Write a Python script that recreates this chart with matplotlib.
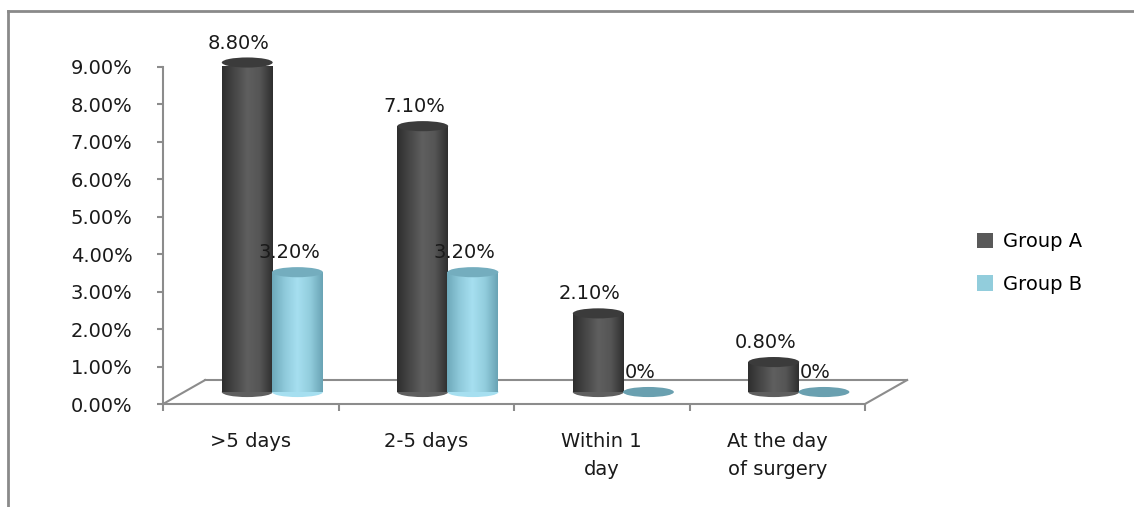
import numpy as np
import matplotlib
matplotlib.use("Agg")
import matplotlib.pyplot as plt
from matplotlib.patches import Ellipse, Patch
from matplotlib.lines import Line2D
from matplotlib.colors import LinearSegmentedColormap

categories = [">5 days", "2-5 days", "Within 1\nday", "At the day\nof surgery"]
group_a = [8.8, 7.1, 2.1, 0.8]
group_b = [3.2, 3.2, 0.0, 0.0]
labels_a = ["8.80%", "7.10%", "2.10%", "0.80%"]
labels_b = ["3.20%", "3.20%", "0%", "0%"]
yticks = [0, 1, 2, 3, 4, 5, 6, 7, 8, 9]

plt.rcParams['font.family'] = ['DejaVu Sans']
fig = plt.figure(figsize=(11.34, 5.07), dpi=100)
ax = fig.add_axes([163 / 1134, (507 - 404) / 507, 702 / 1134, 337 / 507])

gray = "#8c8c8c"
txt = "#1a1a1a"
fs = 14
# 3d look: depth offset of the floor (data units)
dx, dy = 0.24, 0.64
base = dy / 2
width = 0.29
ell_h = 0.27

x = np.arange(len(categories))
xa = x - 0.02
xb = x + 0.266

cmap_a = LinearSegmentedColormap.from_list("a", ["#2e2e2e", "#474747", "#5f5f5f", "#555555", "#2f2f2f"])
cmap_b = LinearSegmentedColormap.from_list("b", ["#6ea9ba", "#8fcadb", "#a6dff0", "#92cddd", "#6aa4b5"])
grad = np.linspace(0, 1, 100).reshape(1, -1)


def cylinders(xs, vals, cmap, top_col, bot_col):
    bars = ax.bar(xs, vals, width=width, bottom=base, color="none", zorder=3, clip_on=False)
    for bar, v in zip(bars, vals):
        x0 = bar.get_x()
        cx = x0 + width / 2
        if v > 0:
            ax.add_patch(Ellipse((cx, base), width, ell_h, facecolor=cmap(0.5), zorder=2, clip_on=False))
            im = ax.imshow(grad, cmap=cmap, aspect="auto", zorder=3,
                           extent=(x0, x0 + width, base, base + v))
            im.set_clip_path(bar)
            im.set_clip_box(None)
            ax.add_patch(Ellipse((cx, base + v), width, ell_h, facecolor=top_col, zorder=4, clip_on=False))
        else:
            ax.add_patch(Ellipse((cx, base), width, ell_h, facecolor=bot_col, zorder=4, clip_on=False))


cylinders(xa, group_a, cmap_a, "#3b3b3b", "#3b3b3b")
cylinders(xb, group_b, cmap_b, "#74adbe", "#6aa0b0")

for xs, vals, labs in [(xa, group_a, labels_a), (xb, group_b, labels_b)]:
    for xi, v, lab in zip(xs, vals, labs):
        ax.annotate(lab, (xi, base + v), xytext=(-6, 14), textcoords="offset points",
                    ha="center", va="center", fontsize=fs, color=txt, zorder=6,
                    annotation_clip=False)

# floor
kw = dict(color=gray, lw=1.5, clip_on=False, zorder=1)
ax.plot([-0.5 + dx, 3.5 + dx], [dy, dy], **kw)
ax.plot([-0.5, -0.5 + dx], [0, dy], **kw)
ax.plot([3.5, 3.5 + dx], [0, dy], **kw)

ax.set_xlim(-0.5, 3.5)
ax.set_ylim(0, 9)
ax.set_facecolor("none")
for s in ["top", "right"]:
    ax.spines[s].set_visible(False)
for s in ["left", "bottom"]:
    ax.spines[s].set_color(gray)
    ax.spines[s].set_linewidth(1.5)

ax.set_yticks(yticks)
ax.set_yticklabels([f"{t:.2f}%" for t in yticks])
ax.tick_params(axis="y", length=4, width=1.5, color=gray, pad=18, labelsize=fs, labelcolor=txt)
ax.set_xticks(x)
ax.set_xticklabels(categories, linespacing=1.6)
ax.tick_params(axis="x", which="major", length=0, pad=20, labelsize=fs, labelcolor=txt)
ax.set_xticks(np.arange(-0.5, 4.0, 1.0), minor=True)
ax.tick_params(axis="x", which="minor", length=5, width=1.5, color=gray)

handles = [Patch(facecolor="#595959", label="Group A"), Patch(facecolor="#92cddc", label="Group B")]
fig.legend(handles=handles, loc="center left", bbox_to_anchor=(959 / 1134, 1 - 263 / 507),
           frameon=False, handlelength=0.85, handleheight=0.85,
           labelspacing=1.2, handletextpad=0.5, prop={"size": fs})

# outer chart border
fig.add_artist(Line2D([8 / 1134, 1], [1 - 11 / 507, 1 - 11 / 507], color="#8a8a8a", lw=2))
fig.add_artist(Line2D([8 / 1134, 8 / 1134], [0, 1 - 11 / 507], color="#8a8a8a", lw=2))

fig.savefig("out.png", dpi=100)
